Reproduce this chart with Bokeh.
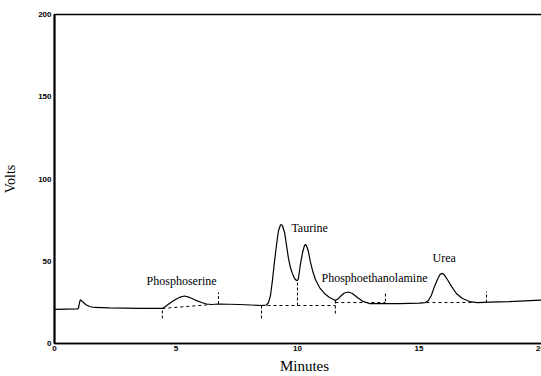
from bokeh.plotting import figure
from bokeh.models import FixedTicker, Range1d
from bokeh.embed import file_html
from bokeh.resources import INLINE
from bokeh.core.properties import value

# ---- data ----
x_ticks = [0, 5, 10, 15, 20]
y_ticks = [0, 50, 100, 150, 200]

trace_min = [0.00, 0.95, 0.99, 1.03, 1.07, 1.15, 1.28, 1.44, 1.65, 2.26, 3.50,
             4.44, 4.57, 4.73, 4.94, 5.14, 5.35, 5.56, 5.80, 6.05, 6.26, 6.46, 6.75,
             7.61, 8.52, 8.72, 8.81, 8.89, 8.97, 9.05, 9.14, 9.22, 9.30, 9.34, 9.38,
             9.47, 9.55, 9.63, 9.71, 9.79, 9.88, 9.96, 10.00, 10.04, 10.12, 10.21,
             10.29, 10.33, 10.37, 10.45, 10.53, 10.62, 10.74, 10.91, 11.11, 11.32,
             11.56, 11.69, 11.81, 11.93, 12.10, 12.26, 12.47, 12.67, 12.96, 13.37,
             14.20, 15.02, 15.27, 15.39, 15.51, 15.64, 15.78, 15.88, 15.97, 16.05,
             16.17, 16.34, 16.54, 16.79, 17.08, 17.41, 17.90, 18.72, 20.00, 20.60]
trace_volts = [20.7, 21.0, 21.6, 24.9, 26.7, 25.5, 23.7, 22.5, 21.9, 21.6, 21.3,
               21.3, 22.5, 24.3, 26.4, 28.0, 28.9, 28.0, 26.4, 24.9, 24.0, 23.7, 24.0,
               23.7, 23.1, 23.4, 24.9, 29.2, 38.3, 49.2, 60.2, 68.7, 72.0, 72.3, 71.7,
               67.5, 59.6, 51.7, 46.2, 42.6, 39.5, 38.3, 38.3, 39.5, 48.0, 55.3,
               59.6, 60.2, 59.6, 55.9, 49.8, 44.4, 38.9, 34.0, 30.4, 28.0,
               26.1, 27.4, 29.2, 30.7, 31.3, 30.4, 28.0, 25.8, 24.3, 24.3,
               24.3, 24.6, 24.9, 26.1, 29.2, 34.7, 39.5, 42.2, 42.6, 41.6,
               38.9, 34.7, 30.4, 27.4, 25.5, 24.9, 25.2, 25.5, 26.4, 26.6]

# integration baselines (dashed)
base_x0 = [4.44, 8.52, 10.00, 11.56, 15.31]
base_y0 = [21.3, 23.1, 23.1, 24.9, 24.9]
base_x1 = [6.46, 10.00, 11.56, 13.62, 17.20]
base_y1 = [23.7, 23.1, 23.1, 24.9, 24.9]

# peak start/stop markers
mark_x = [4.44, 6.75, 8.52, 10.00, 11.56, 13.62, 17.78]
mark_lo = [15.2, 24.0, 15.2, 23.1, 18.2, 25.5, 24.9]
mark_hi = [21.3, 31.0, 23.1, 38.3, 27.4, 31.6, 31.6]

peak_names = ["Phosphoserine", "Taurine", "Phosphoethanolamine", "Urea"]
label_min = [3.79, 9.75, 10.99, 15.56]
label_volts = [37.7, 70.5, 40.1, 51.7]

p = figure(frame_width=500, frame_height=329, output_backend="svg",
           toolbar_location=None,
           x_range=Range1d(0, 20.58), y_range=Range1d(0, 200),
           min_border_left=47, min_border_right=0, min_border_top=14,
           min_border_bottom=33)

p.grid.visible = False
p.outline_line_color = "black"
p.outline_line_width = 1.5

p.line(trace_min, trace_volts, line_color="black", line_width=1.2)
p.segment(base_x0, base_y0, base_x1, base_y1, line_color="black",
          line_width=1, line_dash="3 3")
p.segment(mark_x, mark_lo, mark_x, mark_hi, line_color="black",
          line_width=1, line_dash="3 2")
p.text(label_min, label_volts, text=peak_names, text_font=value("Liberation Serif"),
       text_font_size="12px", text_align="left", text_baseline="middle",
       text_color="black")

for ax in (p.xaxis[0], p.yaxis[0]):
    ax.major_tick_in = 0
    ax.major_tick_out = 0
    ax.minor_tick_in = 0
    ax.minor_tick_out = 0
    ax.axis_line_color = "black"
    ax.major_label_text_font = "Liberation Sans"
    ax.major_label_text_font_style = "bold"
    ax.major_label_text_font_size = "8px"
    ax.major_label_text_color = "black"
    ax.axis_label_text_font = "Liberation Serif"
    ax.axis_label_text_font_style = "normal"
    ax.axis_label_text_color = "black"

p.xaxis.ticker = FixedTicker(ticks=x_ticks)
p.yaxis.ticker = FixedTicker(ticks=y_ticks)
p.xaxis.axis_line_width = 1.5
p.yaxis.axis_line_width = 2
p.xaxis.major_label_standoff = 2
p.yaxis.major_label_standoff = 3
p.xaxis.axis_label = "Minutes"
p.yaxis.axis_label = "Volts"
p.xaxis.axis_label_text_font_size = "15px"
p.yaxis.axis_label_text_font_size = "14px"
p.xaxis.axis_label_standoff = 4
p.yaxis.axis_label_standoff = 17

open("out.html", "w").write(file_html(p, INLINE))
